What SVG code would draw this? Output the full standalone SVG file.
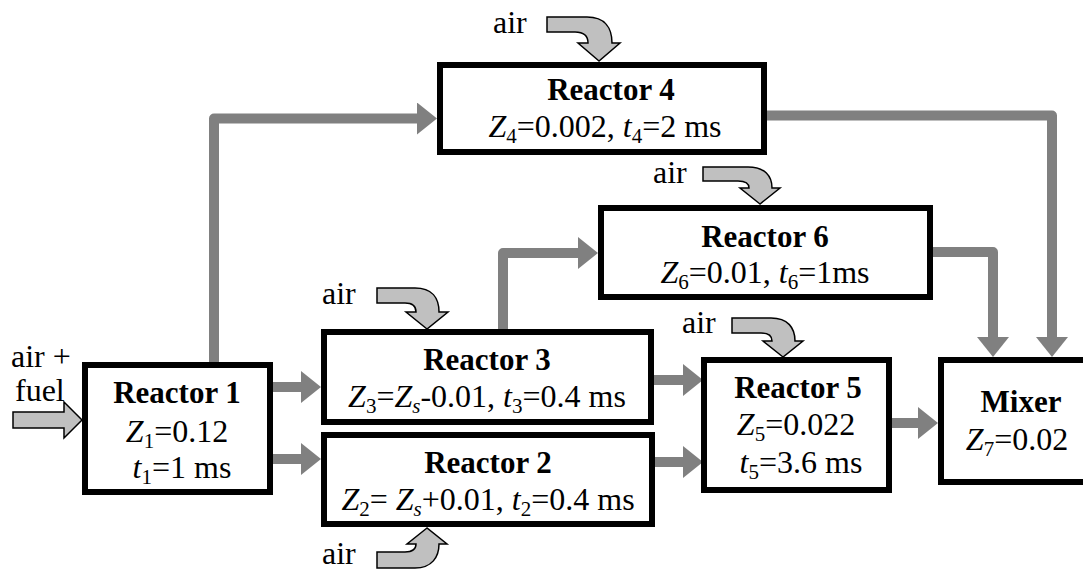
<svg xmlns="http://www.w3.org/2000/svg" width="1083" height="569" viewBox="0 0 1083 569" font-family="'Liberation Serif', 'Times New Roman', serif">
<style>
.box{fill:#fff;stroke:#000;stroke-width:6}
.conn{fill:none;stroke:#808080;stroke-width:10;stroke-linejoin:round;marker-end:url(#ah)}
.air{fill:#c0c0c0;stroke:#000;stroke-width:1.5;stroke-linejoin:miter}
text{font-family:'Liberation Serif','Times New Roman',serif;font-size:32px;fill:#000}
.t{font-weight:bold;font-size:31px}
.c{text-anchor:middle}
.i{font-style:italic}
.s{font-size:21px}
</style>
<defs>
<marker id="ah" markerUnits="userSpaceOnUse" markerWidth="20" markerHeight="32" refX="0" refY="16" orient="auto">
<path d="M0,0 L20,16 L0,32 Z" fill="#808080"/>
</marker>
</defs>
<rect width="1083" height="569" fill="#fff"/>

<g id="connectors">
<path class="conn" d="M214,363 V118.5 H417"/>
<path class="conn" d="M273,387 H301"/>
<path class="conn" d="M273,459 H301"/>
<path class="conn" d="M503,329 V253 H578"/>
<path class="conn" d="M654,380 H683"/>
<path class="conn" d="M655,462 H683"/>
<path class="conn" d="M892,423 H918"/>
<path class="conn" d="M767,115.5 H1052 V337"/>
<path class="conn" d="M933,252 H993 V337"/>
</g>

<g id="inputs">
<polygon class="air" stroke-width="2" points="13,412 64,412 64,402 82,420 64,438 64,428 13,428"/>
<text x="11" y="367">air +</text>
<text x="15" y="401">fuel</text>
<path class="air" transform="translate(599,61)" d="M0,0 L-21,-18 L-11,-18 C-11,-25 -15,-29 -24,-29 L-52,-29 L-52,-44 L-12,-44 C6,-44 13,-33 13,-18 L21,-18 Z"/>
<text x="493" y="33">air</text>
<path class="air" transform="translate(760,204)" d="M0,0 L-20,-16 L-11,-16 C-11,-20 -14,-23 -22,-23 L-57,-23 L-57,-37 L-12,-37 C5,-37 12,-28 12,-16 L20,-16 Z"/>
<text x="653" y="183">air</text>
<path class="air" transform="translate(427,329)" d="M0,0 L-21,-17 L-11,-17 C-11,-22 -14,-26 -22,-26 L-50,-26 L-50,-41 L-12,-41 C5,-41 12,-31 12,-17 L21,-17 Z"/>
<text x="322" y="304">air</text>
<path class="air" transform="translate(783,357)" d="M0,0 L-20,-16 L-11,-16 C-11,-21 -14,-24 -22,-24 L-51,-24 L-51,-39 L-12,-39 C5,-39 12,-29 12,-16 L20,-16 Z"/>
<text x="682" y="333">air</text>
<path class="air" transform="translate(427,528) scale(1,-1)" d="M0,0 L-20,-16 L-11,-16 C-11,-21 -14,-24 -22,-24 L-50,-24 L-50,-40 L-12,-40 C5,-40 12,-29 12,-16 L20,-16 Z"/>
<text x="322" y="564">air</text>
</g>

<g id="reactor1">
<rect class="box" x="85" y="365" width="185" height="127"/>
<text class="t c" x="177" y="403">Reactor 1</text>
<text class="c" x="177" y="442"><tspan class="i">Z</tspan><tspan class="s" dy="6">1</tspan><tspan dy="-6">=0.12</tspan></text>
<text class="c" x="182" y="478"><tspan class="i">t</tspan><tspan class="s" dy="6">1</tspan><tspan dy="-6">=1 ms</tspan></text>
</g>

<g id="reactor4">
<rect class="box" x="440" y="65" width="324" height="87"/>
<text class="t c" x="611" y="100">Reactor 4</text>
<text class="c" x="605" y="137"><tspan class="i">Z</tspan><tspan class="s" dy="6">4</tspan><tspan dy="-6">=0.002, </tspan><tspan class="i">t</tspan><tspan class="s" dy="6">4</tspan><tspan dy="-6">=2 ms</tspan></text>
</g>

<g id="reactor6">
<rect class="box" x="601" y="208" width="329" height="89"/>
<text class="t c" x="765" y="247">Reactor 6</text>
<text class="c" x="765" y="283"><tspan class="i">Z</tspan><tspan class="s" dy="6">6</tspan><tspan dy="-6">=0.01, </tspan><tspan class="i">t</tspan><tspan class="s" dy="6">6</tspan><tspan dy="-6">=1ms</tspan></text>
</g>

<g id="reactor3">
<rect class="box" x="324" y="332" width="327" height="90"/>
<text class="t c" x="487" y="370">Reactor 3</text>
<text class="c" x="487" y="407"><tspan class="i">Z</tspan><tspan class="s" dy="6">3</tspan><tspan dy="-6">=</tspan><tspan class="i">Z</tspan><tspan class="s i" dy="6">s</tspan><tspan dy="-6">-0.01, </tspan><tspan class="i">t</tspan><tspan class="s" dy="6">3</tspan><tspan dy="-6">=0.4 ms</tspan></text>
</g>

<g id="reactor2">
<rect class="box" x="324" y="435" width="328" height="89"/>
<text class="t c" x="488" y="473">Reactor 2</text>
<text class="c" x="488" y="510"><tspan class="i">Z</tspan><tspan class="s" dy="6">2</tspan><tspan dy="-6">= </tspan><tspan class="i">Z</tspan><tspan class="s i" dy="6">s</tspan><tspan dy="-6">+0.01, </tspan><tspan class="i">t</tspan><tspan class="s" dy="6">2</tspan><tspan dy="-6">=0.4 ms</tspan></text>
</g>

<g id="reactor5">
<rect class="box" x="704" y="360" width="185" height="130"/>
<text class="t c" x="798" y="398">Reactor 5</text>
<text class="c" x="796" y="435"><tspan class="i">Z</tspan><tspan class="s" dy="6">5</tspan><tspan dy="-6">=0.022</tspan></text>
<text class="c" x="801" y="473"><tspan class="i">t</tspan><tspan class="s" dy="6">5</tspan><tspan dy="-6">=3.6 ms</tspan></text>
</g>

<g id="mixer">
<rect class="box" x="941" y="360" width="150" height="122"/>
<text class="t c" x="1021" y="412">Mixer</text>
<text class="c" x="1017" y="450"><tspan class="i">Z</tspan><tspan class="s" dy="6">7</tspan><tspan dy="-6">=0.02</tspan></text>
</g>
</svg>
